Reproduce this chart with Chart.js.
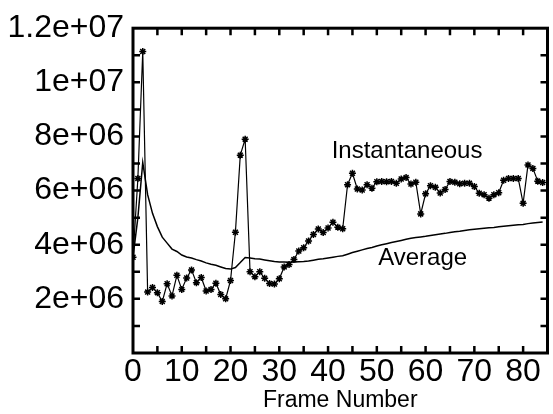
<!DOCTYPE html>
<html>
<head>
<meta charset="utf-8">
<script src="https://cdn.jsdelivr.net/npm/chart.js@4.4.1/dist/chart.umd.min.js"></script>
<style>
  html, body { margin: 0; padding: 0; background: #fff; }
  #wrap { width: 553px; height: 414px; }
</style>
</head>
<body>
<div id="wrap"><canvas id="myChart" width="553" height="414"></canvas></div>
<script>
// frame index 0..84
var frames = [
  0, 1, 2, 3, 4, 5, 6, 7, 8, 9, 10, 11, 12, 13, 14, 15, 16, 17, 18, 19,
  20, 21, 22, 23, 24, 25, 26, 27, 28, 29, 30, 31, 32, 33, 34, 35, 36, 37, 38, 39,
  40, 41, 42, 43, 44, 45, 46, 47, 48, 49, 50, 51, 52, 53, 54, 55, 56, 57, 58, 59,
  60, 61, 62, 63, 64, 65, 66, 67, 68, 69, 70, 71, 72, 73, 74, 75, 76, 77, 78, 79,
  80, 81, 82, 83, 84
];

// values in millions
var instantaneous = [
  3.54, 6.45, 11.14, 2.25, 2.42, 2.23, 1.90, 2.56, 2.11, 2.87,
  2.35, 2.77, 3.07, 2.60, 2.79, 2.29, 2.35, 2.58, 2.16, 2.00,
  2.68, 4.46, 7.31, 7.90, 3.00, 2.82, 3.00, 2.76, 2.57, 2.55,
  2.74, 3.18, 3.27, 3.45, 3.77, 3.89, 4.14, 4.38, 4.58, 4.45,
  4.62, 4.83, 4.65, 4.59, 6.22, 6.64, 6.06, 6.02, 6.22, 6.09,
  6.33, 6.34, 6.33, 6.34, 6.27, 6.43, 6.48, 6.24, 6.31, 5.14,
  5.88, 6.18, 6.12, 5.91, 6.04, 6.34, 6.31, 6.25, 6.27, 6.27,
  6.15, 5.90, 5.85, 5.72, 5.85, 5.92, 6.38, 6.45, 6.45, 6.45,
  5.53, 6.95, 6.82, 6.35, 6.30
];

var average = [
  3.54, 5.00, 7.04, 5.85, 5.16, 4.67, 4.28, 4.06, 3.84, 3.75,
  3.62, 3.55, 3.51, 3.45, 3.40, 3.33, 3.28, 3.24, 3.18, 3.12,
  3.10, 3.16, 3.34, 3.53, 3.51, 3.48, 3.47, 3.44, 3.41, 3.38,
  3.36, 3.36, 3.35, 3.36, 3.37, 3.38, 3.40, 3.43, 3.46, 3.48,
  3.51, 3.54, 3.57, 3.59, 3.65, 3.71, 3.76, 3.81, 3.86, 3.90,
  3.95, 4.00, 4.04, 4.08, 4.12, 4.16, 4.20, 4.24, 4.27, 4.29,
  4.31, 4.34, 4.37, 4.40, 4.42, 4.45, 4.48, 4.50, 4.53, 4.55,
  4.57, 4.59, 4.61, 4.63, 4.64, 4.66, 4.68, 4.70, 4.72, 4.74,
  4.75, 4.78, 4.80, 4.82, 4.84
];

var xTickValues = [0, 10, 20, 30, 40, 50, 60, 70, 80];

var curveLabels = [
  { text: 'Instantaneous', x: 56.2, y: 7.45e6 },
  { text: 'Average', x: 59.4, y: 3.5e6 }
];

function toPoints(vals) {
  return vals.map(function (v, i) { return { x: frames[i], y: v * 1e6 }; });
}

// gnuplot style exponent: 2e+06, 1.2e+07
function sci(v) {
  if (v === 0) return '';
  var parts = v.toExponential().split('e');
  var exp = parts[1];
  return parts[0] + 'e' + exp[0] + exp.slice(1).padStart(2, '0');
}

var FONT = '"Liberation Sans", Arial, Helvetica, sans-serif';

// inward ticks on all four sides, thick border, curve labels
var gnuplotFrame = {
  id: 'gnuplotFrame',
  afterDatasetsDraw: function (chart) {
    var ctx = chart.ctx, a = chart.chartArea;
    var x = chart.scales.x, y = chart.scales.y;
    var len = 7;
    ctx.save();
    ctx.strokeStyle = '#000';
    ctx.lineWidth = 2.5;
    ctx.beginPath();
    for (var v = 5; v < 85; v += 5) {
      var px = x.getPixelForValue(v);
      ctx.moveTo(px, a.bottom); ctx.lineTo(px, a.bottom - len);
      ctx.moveTo(px, a.top); ctx.lineTo(px, a.top + len);
    }
    for (var w = 1e6; w < 1.2e7; w += 1e6) {
      var py = y.getPixelForValue(w);
      ctx.moveTo(a.left, py); ctx.lineTo(a.left + len, py);
      ctx.moveTo(a.right, py); ctx.lineTo(a.right - len, py);
    }
    ctx.stroke();
    ctx.lineWidth = 3;
    ctx.strokeRect(a.left, a.top, a.right - a.left, a.bottom - a.top);

    ctx.fillStyle = '#000';
    ctx.font = '24px ' + FONT;
    ctx.textAlign = 'center';
    ctx.textBaseline = 'middle';
    curveLabels.forEach(function (l) {
      ctx.fillText(l.text, x.getPixelForValue(l.x), y.getPixelForValue(l.y));
    });
    ctx.restore();
  }
};

var ctx = document.getElementById('myChart').getContext('2d');
var myChart = new Chart(ctx, {
  type: 'line',
  data: {
    datasets: [{
      label: 'Instantaneous',
      data: toPoints(instantaneous),
      borderColor: '#000',
      borderWidth: 1.2,
      pointStyle: 'star',
      pointRadius: 3.5,
      pointBorderColor: '#000',
      pointBorderWidth: 1.5,
      pointBackgroundColor: '#000',
      tension: 0
    },
    {
      label: 'Average',
      data: toPoints(average),
      borderColor: '#000',
      borderWidth: 1.5,
      pointRadius: 0,
      tension: 0
    }]
  },
  options: {
    responsive: false,
    animation: false,
    devicePixelRatio: 1,
    layout: {
      padding: { top: 27, right: 1.5, left: 0, bottom: 0 }
    },
    plugins: {
      legend: { display: false },
      tooltip: { enabled: false }
    },
    scales: {
      x: {
        type: 'linear',
        min: 0,
        max: 85,
        grid: { display: false, drawTicks: false },
        border: { display: false },
        afterBuildTicks: function (s) {
          s.ticks = xTickValues.map(function (v) { return { value: v }; });
        },
        ticks: {
          padding: 0,
          color: '#000',
          font: { family: FONT, size: 32 },
          maxRotation: 0,
          autoSkip: false
        },
        title: {
          display: true,
          text: 'Frame Number',
          color: '#000',
          font: { family: FONT, size: 23, lineHeight: 1 },
          padding: { top: 0, bottom: 2 }
        },
        afterFit: function (s) { s.height = 61; }
      },
      y: {
        min: 0,
        max: 1.2e7,
        grid: { display: false, drawTicks: false },
        border: { display: false },
        ticks: {
          stepSize: 2e6,
          padding: 9,
          color: '#000',
          font: { family: FONT, size: 32 },
          callback: function (v) { return sci(v); }
        },
        afterFit: function (s) { s.width = 133; }
      }
    }
  },
  plugins: [gnuplotFrame]
});
</script>
</body>
</html>
